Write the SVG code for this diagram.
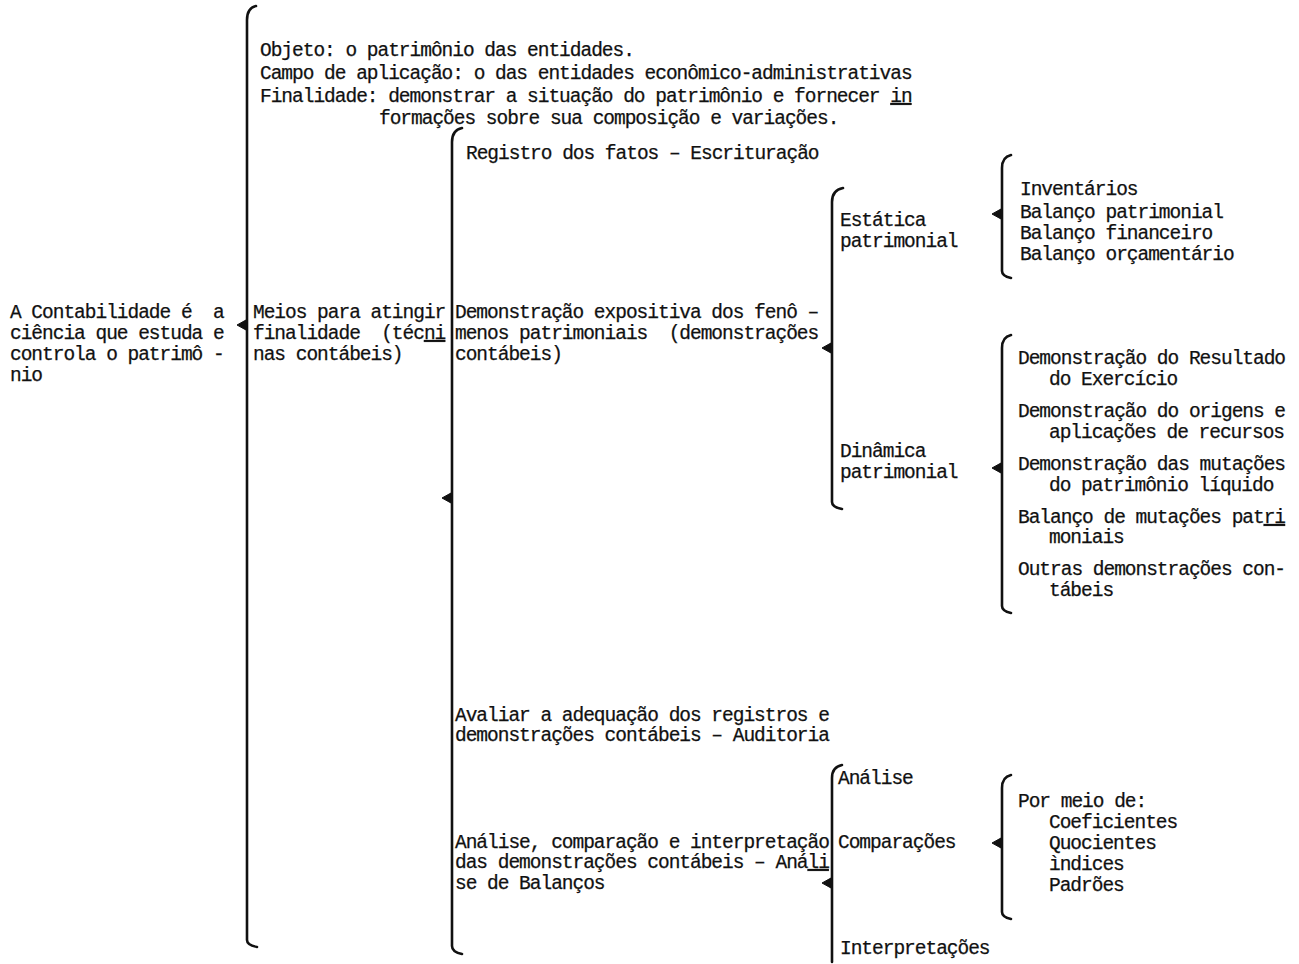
<svg xmlns="http://www.w3.org/2000/svg" width="1299" height="964" viewBox="0 0 1299 964" xml:space="preserve">
<style>
text{font-family:"Liberation Mono","DejaVu Sans Mono",monospace;font-size:19.5px;letter-spacing:-1.02px;fill:#111;stroke:#111;stroke-width:0.25;white-space:pre}
.br{fill:none;stroke:#111;stroke-width:2.6;stroke-linecap:round;stroke-linejoin:round}
.ar{fill:#111;stroke:#111;stroke-width:1}
.u{text-decoration:underline}
</style>
<defs>
<path id="tip" class="ar" d="M0,-5 L-9,0 L0,5 Z"/>
</defs>
<rect width="1299" height="964" fill="#fff"/>
<g id="connectors">
<path class="br" d="M256,6 Q247,8 247,20 L247,940 Q247,945 257,947"/>
<use href="#tip" x="246" y="325"/>
<path class="br" d="M462,128 Q452,130 452,142 L452,946 Q452,952 462,954"/>
<use href="#tip" x="451" y="498"/>
<path class="br" d="M843,188 Q832,190 832,202 L832,502 Q832,507 842,509"/>
<use href="#tip" x="831" y="348"/>
<path class="br" d="M1011,155 Q1002,157 1002,168 L1002,271 Q1002,276 1011,278"/>
<use href="#tip" x="1001" y="214"/>
<path class="br" d="M1011,335 Q1002,337 1002,348 L1002,606 Q1002,611 1011,613"/>
<use href="#tip" x="1001" y="468"/>
<path class="br" d="M842,765 Q832,767 832,778 L832,962"/>
<use href="#tip" x="831" y="883"/>
<path class="br" d="M1011,775 Q1002,777 1002,788 L1002,912 Q1002,917 1011,919"/>
<use href="#tip" x="1001" y="843"/>
</g>
<g id="n-contabilidade">
<text x="10" y="318">A Contabilidade é  a</text>
<text x="10" y="339">ciência que estuda e</text>
<text x="10" y="360">controla o patrimô -</text>
<text x="10" y="381">nio</text>
</g>
<g id="n-objeto">
<text x="260" y="56">Objeto: o patrimônio das entidades.</text>
<text x="260" y="79">Campo de aplicação: o das entidades econômico-administrativas</text>
<text x="260" y="102">Finalidade: demonstrar a situação do patrimônio e fornecer <tspan class="u">in</tspan></text>
<text x="379" y="124">formações sobre sua composição e variações.</text>
</g>
<g id="n-meios">
<text x="253" y="318">Meios para atingir</text>
<text x="253" y="339">finalidade  (téc<tspan class="u">ni</tspan></text>
<text x="253" y="360">nas contábeis)</text>
</g>
<g id="n-registro">
<text x="466" y="159">Registro dos fatos – Escrituração</text>
</g>
<g id="n-demonstracao">
<text x="455" y="318">Demonstração expositiva dos fenô –</text>
<text x="455" y="339">menos patrimoniais  (demonstrações</text>
<text x="455" y="360">contábeis)</text>
</g>
<g id="n-avaliar">
<text x="455" y="721">Avaliar a adequação dos registros e</text>
<text x="455" y="741">demonstrações contábeis – Auditoria</text>
</g>
<g id="n-analise-bal">
<text x="455" y="848">Análise, comparação e interpretação</text>
<text x="455" y="868">das demonstrações contábeis – Aná<tspan class="u">li</tspan></text>
<text x="455" y="889">se de Balanços</text>
</g>
<g id="n-estatica">
<text x="840" y="226">Estática</text>
<text x="840" y="247">patrimonial</text>
</g>
<g id="n-dinamica">
<text x="840" y="457">Dinâmica</text>
<text x="840" y="478">patrimonial</text>
</g>
<g id="n-analise">
<text x="838" y="784">Análise</text>
</g>
<g id="n-comparacoes">
<text x="838" y="848">Comparações</text>
</g>
<g id="n-interpretacoes">
<text x="840" y="954">Interpretações</text>
</g>
<g id="n-inventarios">
<text x="1020" y="195">Inventários</text>
<text x="1020" y="218">Balanço patrimonial</text>
<text x="1020" y="239">Balanço financeiro</text>
<text x="1020" y="260">Balanço orçamentário</text>
</g>
<g id="n-dinamicas">
<text x="1018" y="364">Demonstração do Resultado</text>
<text x="1049" y="385">do Exercício</text>
<text x="1018" y="417">Demonstração do origens e</text>
<text x="1049" y="438">aplicações de recursos</text>
<text x="1018" y="470">Demonstração das mutações</text>
<text x="1049" y="491">do patrimônio líquido</text>
<text x="1018" y="523">Balanço de mutações pat<tspan class="u">ri</tspan></text>
<text x="1049" y="543">moniais</text>
<text x="1018" y="575">Outras demonstrações con-</text>
<text x="1049" y="596">tábeis</text>
</g>
<g id="n-por-meio">
<text x="1018" y="807">Por meio de:</text>
<text x="1049" y="828">Coeficientes</text>
<text x="1049" y="849">Quocientes</text>
<text x="1049" y="870">ìndices</text>
<text x="1049" y="891">Padrões</text>
</g>
</svg>
